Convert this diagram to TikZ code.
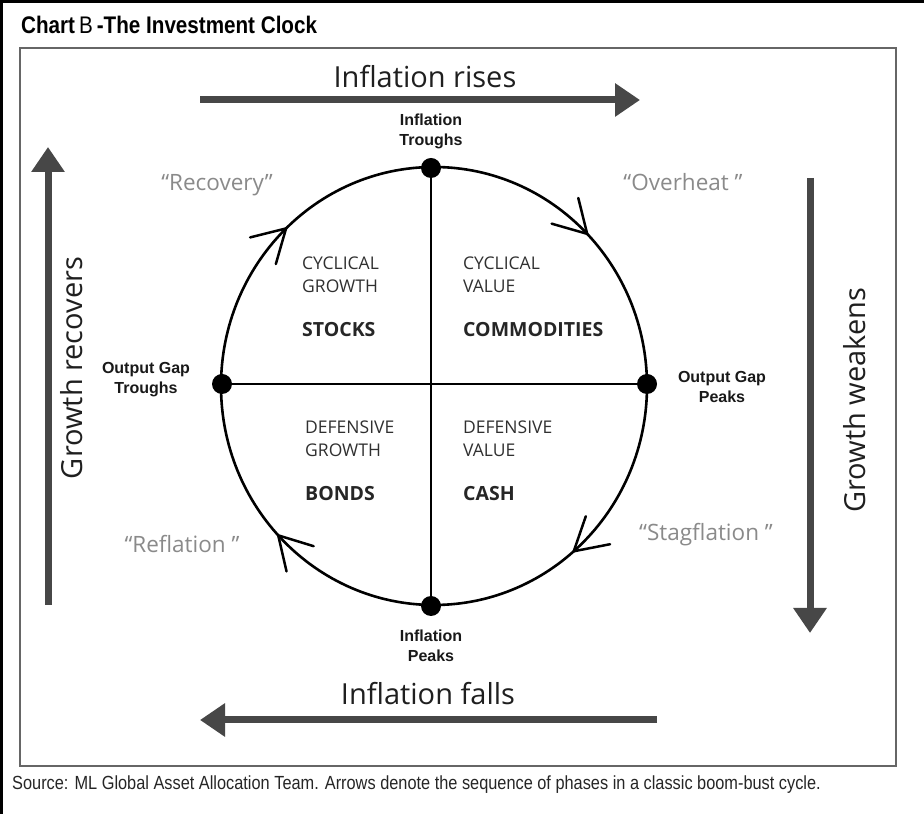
\documentclass[tikz,border=0pt]{standalone}
\usepackage{fontspec}
\setmainfont{Liberation Sans}
\newfontfamily\comic{Open Sans}
\newfontfamily\narrowsans[FakeStretch=0.86]{Liberation Sans}
\usetikzlibrary{arrows.meta}
\definecolor{arrowgray}{HTML}{474747}
\definecolor{phasegray}{HTML}{8A8A8A}
\definecolor{quadgray}{HTML}{303030}
\definecolor{framegray}{HTML}{666666}
\tikzset{
  bigarrow/.style={draw=arrowgray, line width=7pt, -{Triangle[length=25pt,width=32pt]}},
  dotnode/.style={circle, fill=black, inner sep=0pt, minimum size=20pt},
  ptlabel/.style={font=\fontsize{16}{20}\selectfont\bfseries, text=black!90, align=center, inner sep=0pt},
  quadtxt/.style={font=\comic\fontsize{17.5}{23}\selectfont, text=quadgray, anchor=west, inner sep=0pt, align=left},
  assettxt/.style={font=\comic\fontsize{19.5}{22}\selectfont\bfseries, text=black!85, anchor=west, inner sep=0pt},
  phasetxt/.style={font=\comic\fontsize{22.5}{26}\selectfont, text=phasegray, inner sep=0pt},
  axistxt/.style={font=\comic\fontsize{29}{32}\selectfont, text=black!88, inner sep=0pt},
  clockline/.style={line width=2.6pt, black},
  barb/.pic={\draw[line width=2.5pt, line cap=round] (210:37) -- (0,0) -- (150:37);}
}
\begin{document}
\begin{tikzpicture}[x=1pt,y=1pt]
\useasboundingbox (0,0) rectangle (924,814);
\fill[white] (0,0) rectangle (924,814);
% outer frame (top and left)
\draw[line width=3pt, black] (1.5,0) -- (1.5,812.5) -- (924,812.5);
% title
\node[anchor=west, inner sep=0pt, font=\narrowsans\fontsize{24}{26}\selectfont] (title) at (21,789) {\textbf{Chart}\,B\,\textbf{-The Investment Clock}};
% inner frame
\draw[framegray, line width=1.6pt] (20,48) rectangle (896,766);
% source
\node[anchor=west, inner sep=0pt, font=\narrowsans\fontsize{19}{22}\selectfont, text=black!85] (source) at (12,29) {Source: ML Global Asset Allocation Team. Arrows denote the sequence of phases in a classic boom-bust cycle.};

% horizontal big arrows
\coordinate (ir0) at (200,714);
\coordinate (ir1) at (640,714);
\draw[bigarrow] (ir0) -- (ir1);
\node[axistxt] (irtxt) at (425,737) {Inflation rises};
\coordinate (if0) at (657,94);
\coordinate (if1) at (200,94);
\draw[bigarrow] (if0) -- (if1);
\node[axistxt] (iftxt) at (428,120) {Inflation falls};

% vertical big arrows
\coordinate (gr0) at (48,209);
\coordinate (gr1) at (48,667);
\draw[bigarrow] (gr0) -- (gr1);
\node[axistxt, rotate=90] (grtxt) at (72,446) {Growth recovers};
\coordinate (gw0) at (810,636);
\coordinate (gw1) at (810,181);
\draw[bigarrow] (gw0) -- (gw1);
\node[axistxt, rotate=90] (gwtxt) at (855,414) {Growth weakens};

% clock
\coordinate (c) at (434,428);
\draw[clockline] (c) ellipse [x radius=213, y radius=219];
\node[dotnode] (top) at (431,646) {};
\node[dotnode] (bot) at (431,208) {};
\node[dotnode] (lft) at (222,430) {};
\node[dotnode] (rgt) at (647,430) {};
\draw[clockline] (top) -- (bot);
\draw[clockline] (lft) -- (rgt);

% direction barbs
\pic[rotate=44] at ([shift={(134:213 and 219)}]c) {barb};
\pic[rotate=-46] at ([shift={(44:213 and 219)}]c) {barb};
\pic[rotate=-139] at ([shift={(-49:213 and 219)}]c) {barb};
\pic[rotate=133] at ([shift={(223:213 and 219)}]c) {barb};

% point labels
\node[ptlabel] (inftr) at (431,683) {Inflation\\Troughs};
\node[ptlabel] (infpk) at (431,168) {Inflation\\Peaks};
\node[ptlabel] (ogtr) at (146,434) {Output Gap\\Troughs};
\node[ptlabel] (ogpk) at (722,427) {Output Gap\\Peaks};

% quadrant texts
\node[quadtxt] (q1a) at (302,551) {CYCLICAL};
\node[quadtxt] (q1b) at (302,528) {GROWTH};
\node[assettxt] (q1c) at (302,484) {STOCKS};
\node[quadtxt] (q2a) at (463,551) {CYCLICAL};
\node[quadtxt] (q2b) at (463,528) {VALUE};
\node[assettxt] (q2c) at (463,484) {COMMODITIES};
\node[quadtxt] (q3a) at (305,387) {DEFENSIVE};
\node[quadtxt] (q3b) at (305,364) {GROWTH};
\node[assettxt] (q3c) at (305,320) {BONDS};
\node[quadtxt] (q4a) at (463,387) {DEFENSIVE};
\node[quadtxt] (q4b) at (463,364) {VALUE};
\node[assettxt] (q4c) at (463,320) {CASH};

% phase labels
\node[phasetxt] (recov) at (217,629) {“Recovery”};
\node[phasetxt] (overh) at (683,632) {“Overheat ”};
\node[phasetxt] (refl) at (182,270) {“Reflation ”};
\node[phasetxt] (stag) at (706,279) {“Stagflation ”};
\end{tikzpicture}
\end{document}
